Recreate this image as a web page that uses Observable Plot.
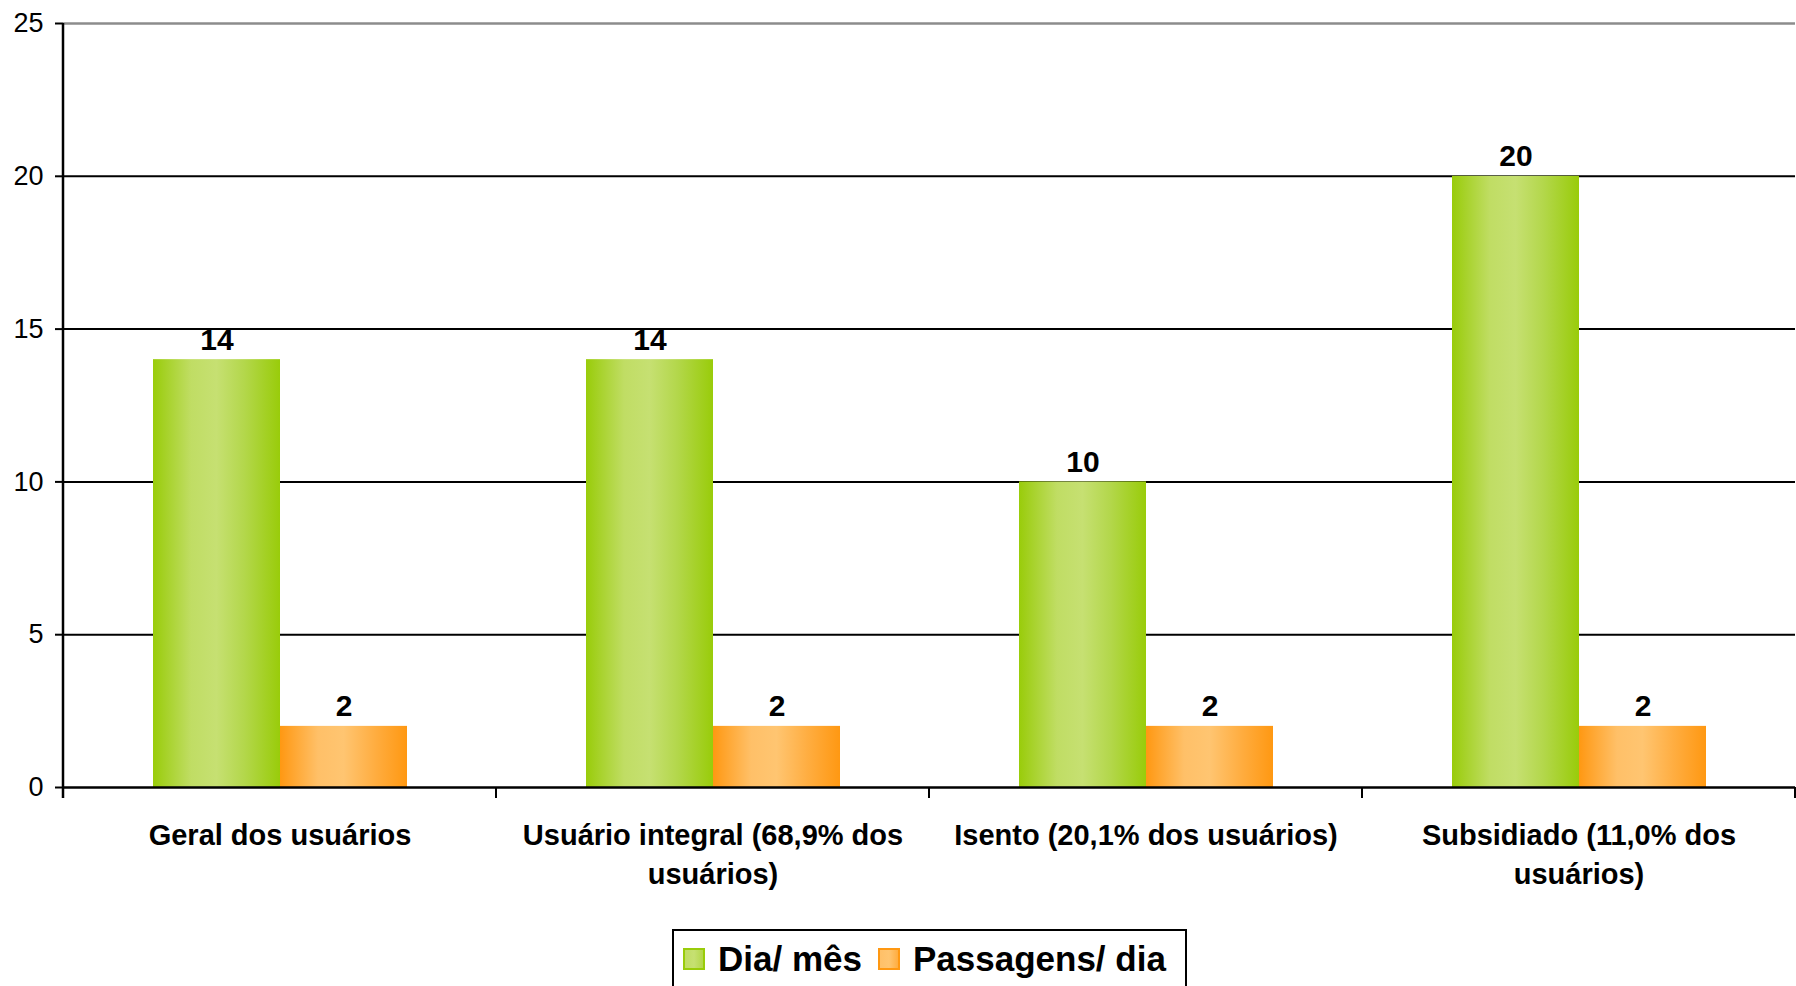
<!DOCTYPE html>
<html>
<head>
<meta charset="utf-8">
<script src="https://cdn.jsdelivr.net/npm/d3@7"></script>
<script src="https://cdn.jsdelivr.net/npm/@observablehq/plot@0.6"></script>
<style>
  html, body { margin: 0; padding: 0; background: #fff; }
  body { font-family: "Liberation Sans", Arial, sans-serif; width: 1796px; height: 986px; overflow: hidden; }
  #chart svg { display: block; }
  #legend {
    box-sizing: border-box;
    margin-left: 672px;
    margin-top: 14px;
    width: 515px;
    height: 80px;
    border: 2px solid #000;
    padding: 12px 0 0 9px;
    font-weight: bold;
    font-size: 35px;
    line-height: 32px;
  }
  #legend .row { display: flex; align-items: center; height: 32px; }
  #legend .sw { width: 22px; height: 22px; box-sizing: border-box; flex: none; }
  #legend .lab { margin-left: 13px; margin-right: 16px; white-space: nowrap; }
</style>
</head>
<body>
<div id="chart"></div>
<div id="legend"><div class="row" id="legendRow"></div></div>
<script>
// ---- data ----
const categories = [
  "Geral dos usuários",
  "Usuário integral (68,9% dos usuários)",
  "Isento (20,1% dos usuários)",
  "Subsidiado (11,0% dos usuários)"
];
const tickLabels = [
  "Geral dos usuários",
  "Usuário integral (68,9% dos\nusuários)",
  "Isento (20,1% dos usuários)",
  "Subsidiado (11,0% dos\nusuários)"
];
const seriesNames = ["Dia/ mês", "Passagens/ dia"];
const diaMes = [14, 14, 10, 20];
const passagensDia = [2, 2, 2, 2];
const yTicks = [0, 5, 10, 15, 20, 25];

// ---- styling ----
const gradIds = ["gradGreen", "gradOrange"];
const gradStops = [
  [[0, "#99cc0a"], [0.3, "#c0dd64"], [0.5, "#c6e072"], [0.72, "#b3d74b"], [1, "#99cc0a"]],
  [[0, "#ff9812"], [0.3, "#ffc068"], [0.5, "#ffc571"], [0.75, "#ffad40"], [1, "#ff9812"]]
];
const swatchBorders = ["#99cc0a", "#ff9812"];
const font = "'Liberation Sans', Arial, sans-serif";

const rows = categories.flatMap((c, i) => [
  {category: c, series: seriesNames[0], value: diaMes[i]},
  {category: c, series: seriesNames[1], value: passagensDia[i]}
]);

const plot = Plot.plot({
  width: 1796,
  height: 915,
  marginTop: 23,
  marginLeft: 61,
  marginRight: 0,
  marginBottom: 128,
  style: {fontFamily: font, background: "#fff", color: "#000", overflow: "visible"},
  fx: {domain: categories, padding: 0, label: null},
  x: {domain: seriesNames, axis: null, paddingInner: 0, paddingOuter: 0.695},
  y: {domain: [0, 25], label: null},
  color: {domain: seriesNames, range: gradIds.map(id => `url(#${id})`)},
  marks: [
    Plot.ruleY(yTicks.filter(d => d > 0 && d < 25), {stroke: "#000", strokeWidth: 2}),
    Plot.ruleY([25], {stroke: "#8c8c8c", strokeWidth: 2.5}),
    Plot.barY(rows, {fx: "category", x: "series", y: "value", fill: "series"}),
    Plot.ruleY([0], {stroke: "#000", strokeWidth: 2.5}),
    Plot.text(rows, {
      fx: "category", x: "series", y: "value",
      text: d => String(d.value),
      lineAnchor: "bottom", dy: -10,
      fontSize: 30, fontWeight: "bold", fill: "#000"
    }),
    Plot.axisY({ticks: yTicks, tickSize: 8, tickPadding: 12, fontSize: 27, label: null, anchor: "left", strokeWidth: 2}),
    Plot.axisFx({
      anchor: "bottom", tickSize: 0, tickPadding: 30, label: null,
      fontSize: 29, fontWeight: "bold", lineHeight: 1.34, lineWidth: Infinity,
      tickFormat: d => tickLabels[categories.indexOf(d)]
    })
  ]
});

// gradients
const svg = d3.select(plot);
const defs = svg.insert("defs", ":first-child");
gradIds.forEach((id, k) => {
  const g = defs.append("linearGradient").attr("id", id)
    .attr("x1", "0%").attr("x2", "100%").attr("y1", "0%").attr("y2", "0%");
  gradStops[k].forEach(([o, c]) => g.append("stop").attr("offset", o).attr("stop-color", c));
});

// axis line and category boundary ticks from the library's scales
const fx = plot.scale("fx");
const y = plot.scale("y");
const y0 = y.apply(0), yTop = y.apply(25);
const bounds = categories.map(c => fx.apply(c)).concat([fx.apply(categories[categories.length - 1]) + fx.bandwidth]);
const extra = svg.append("g").attr("stroke", "#000").attr("stroke-width", 2.5);
extra.append("line").attr("x1", bounds[0]).attr("x2", bounds[0]).attr("y1", yTop).attr("y2", y0 + 11);
bounds.slice(1).forEach(b => {
  extra.append("line").attr("x1", b).attr("x2", b).attr("y1", y0).attr("y2", y0 + 11).attr("stroke-width", 2);
});

document.getElementById("chart").appendChild(plot);

// legend
const row = document.getElementById("legendRow");
seriesNames.forEach((name, k) => {
  const sw = document.createElement("span");
  sw.className = "sw";
  const st = gradStops[k];
  sw.style.border = `2px solid ${swatchBorders[k]}`;
  sw.style.background = `linear-gradient(to right, ${st[1][1]}, ${st[2][1]}, ${st[3][1]})`;
  const lab = document.createElement("span");
  lab.className = "lab";
  lab.textContent = name;
  row.appendChild(sw);
  row.appendChild(lab);
});
</script>
</body>
</html>
